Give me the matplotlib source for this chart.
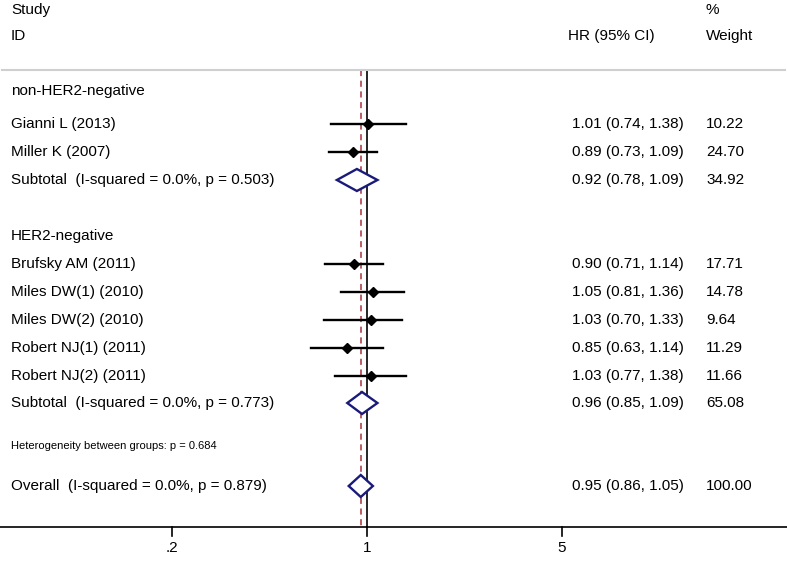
import numpy as np
import matplotlib.pyplot as plt

plt.rcParams['font.family'] = ['Liberation Sans', 'DejaVu Sans']

# studies
estudos = ['Gianni L (2013)', 'Miller K (2007)', 'Brufsky AM (2011)', 'Miles DW(1) (2010)',
           'Miles DW(2) (2010)', 'Robert NJ(1) (2011)', 'Robert NJ(2) (2011)']
hr = [1.01, 0.89, 0.90, 1.05, 1.03, 0.85, 1.03]
ic_inf = [0.74, 0.73, 0.71, 0.81, 0.70, 0.63, 0.77]
ic_sup = [1.38, 1.09, 1.14, 1.36, 1.33, 1.14, 1.38]
peso = ['10.22', '24.70', '17.71', '14.78', '9.64', '11.29', '11.66']

# subtotals / overall
resumos = ['Subtotal  (I-squared = 0.0%, p = 0.503)', 'Subtotal  (I-squared = 0.0%, p = 0.773)',
           'Overall  (I-squared = 0.0%, p = 0.879)']
hr_resumo = [0.92, 0.96, 0.95]
inf_resumo = [0.78, 0.85, 0.86]
sup_resumo = [1.09, 1.09, 1.05]
peso_resumo = ['34.92', '65.08', '100.00']

grupos = ['non-HER2-negative', 'HER2-negative']
heterogeneidade = 'Heterogeneity between groups: p = 0.684'
ticks = [0.2, 1, 5]
tick_labels = ['.2', '1', '5']

# layout (pixel rows)
y_estudos = [124, 152, 264, 292, 320, 348, 376]
y_resumos = [180, 403, 486]
y_grupos = [91, 236]
y_topo = 70
y_eixo = 527

fig = plt.figure(figsize=(7.87, 5.69), dpi=100)
ax = fig.add_axes([0, 0, 1, 1])
ax.set_xscale('log')
ax.set_xlim(0.0484, 32.0)
ax.set_ylim(569, 0)
ax.axis('off')

fs = 11
x_txt = 11 / 787
x_hr = 572 / 787
x_w = 706 / 787


def ty(y):
    return 1 - y / 569


# header
ax.text(x_txt, ty(10), 'Study', transform=ax.transAxes, fontsize=fs, va='center')
ax.text(x_txt, ty(36), 'ID', transform=ax.transAxes, fontsize=fs, va='center')
ax.text(x_hr - 4 / 787, ty(36), 'HR (95% CI)', transform=ax.transAxes, fontsize=fs, va='center')
ax.text(x_w, ty(10), '%', transform=ax.transAxes, fontsize=fs, va='center')
ax.text(x_w, ty(36), 'Weight', transform=ax.transAxes, fontsize=fs, va='center')

ax.axhline(y_topo, xmin=0.003, xmax=0.997, color='#cfcfcf', lw=1.5)

# reference lines
ax.plot([1, 1], [y_topo, y_eixo], color='black', lw=1.2, zorder=1)
ax.plot([hr_resumo[2]] * 2, [y_topo, y_eixo], color='#a8323c', lw=1.1,
        ls=(0, (4, 3)), zorder=1)

for g, y in zip(grupos, y_grupos):
    ax.text(x_txt, ty(y), g, transform=ax.transAxes, fontsize=fs, va='center')

for i in range(len(estudos)):
    y = y_estudos[i]
    ax.plot([ic_inf[i], ic_sup[i]], [y, y], color='black', lw=1.7, zorder=2)
    ax.plot(hr[i], y, marker='D', color='black', ms=5, zorder=3)
    ax.text(x_txt, ty(y), estudos[i], transform=ax.transAxes, fontsize=fs, va='center')
    ax.text(x_hr, ty(y), '%.2f (%.2f, %.2f)' % (hr[i], ic_inf[i], ic_sup[i]),
            transform=ax.transAxes, fontsize=fs, va='center')
    ax.text(x_w, ty(y), peso[i], transform=ax.transAxes, fontsize=fs, va='center')

for i in range(len(resumos)):
    y = y_resumos[i]
    h = 11
    xs = [inf_resumo[i], hr_resumo[i], sup_resumo[i], hr_resumo[i], inf_resumo[i]]
    ys = [y, y - h, y, y + h, y]
    ax.fill(xs, ys, facecolor='white', edgecolor='#1a1a7a', lw=1.7, zorder=4)
    ax.text(x_txt, ty(y), resumos[i], transform=ax.transAxes, fontsize=fs, va='center')
    ax.text(x_hr, ty(y), '%.2f (%.2f, %.2f)' % (hr_resumo[i], inf_resumo[i], sup_resumo[i]),
            transform=ax.transAxes, fontsize=fs, va='center')
    ax.text(x_w, ty(y), peso_resumo[i], transform=ax.transAxes, fontsize=fs, va='center')

ax.text(x_txt, ty(446), heterogeneidade, transform=ax.transAxes, fontsize=8, va='center')

# x axis
ax.axhline(y_eixo, color='black', lw=1.2)
for t, lab in zip(ticks, tick_labels):
    ax.plot([t, t], [y_eixo, y_eixo + 9], color='black', lw=1.2)
    ax.text(t, y_eixo + 21, lab, fontsize=fs, ha='center', va='center')

fig.savefig('out.png', dpi=100)
